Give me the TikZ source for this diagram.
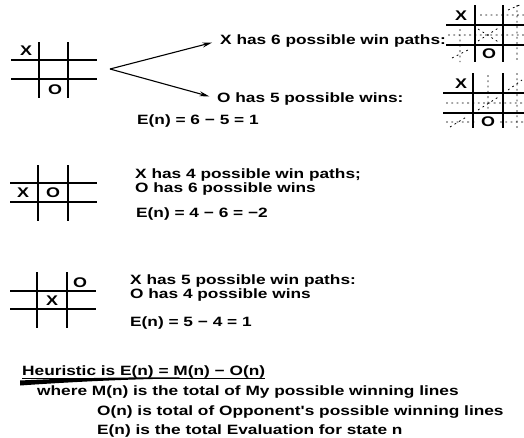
\documentclass[tikz,border=0pt]{standalone}
\usepackage{fontspec}
\newfontfamily\lbl{Liberation Sans}[FakeStretch=1.28]
\usetikzlibrary{arrows.meta}
\begin{document}
\begin{tikzpicture}[x=1pt,y=-1pt,
  txt/.style={anchor=base west, inner sep=0pt, font=\lbl\bfseries\fontsize{13.5}{16}\selectfont},
  piece/.style={inner sep=0pt, font=\lbl\bfseries\fontsize{14}{16}\selectfont},
  gridline/.style={line width=1.4pt},
  winpath/.style={line width=0.8pt, dash pattern=on 1.8pt off 3.5pt},
  arr/.style={line width=1.1pt, -{Stealth[length=10pt,width=5pt]}, shorten >=8pt}]
\useasboundingbox (0,0) rectangle (524,437);
\fill[white] (0,0) rectangle (524,437);
\clip (0,0) rectangle (524,437);

% ---- board 1
\draw[gridline] (39,42)--(39,98) (68,42)--(68,98) (11,60)--(97,60) (11,79)--(97,79);
\node[piece] (g1x) at (26,51) {X};
\node[piece] (g1o) at (55,90) {O};
\coordinate (fork) at (110,69);
\node[txt] (t1a) at (220,44) {X has 6 possible win paths:};
\node[txt] (t1b) at (217,102) {O has 5 possible wins:};
\node[txt] (t1e) at (137,124) {E(n) = 6 − 5 = 1};
\draw[arr] (fork) -- (t1a.west);
\draw[arr] (fork) -- (t1b.west);

% ---- right board A (X win paths)
\draw[gridline] (475,5)--(475,62) (503,5)--(503,62) (446,25)--(530,25) (446,45)--(530,45);
\node[piece] (gax) at (461,16) {X};
\node[piece] (gao) at (489,54) {O};
\draw[winpath] (480,15)--(530,15) (448,35)--(530,35) (460,29)--(460,62) (517,5)--(517,62)
  (478,29)--(500,43) (478,41)--(500,27) (508,10)--(522,4) (452,58)--(468,50);

% ---- right board B (O win paths)
\draw[gridline] (473,73)--(473,128) (503,73)--(503,128) (443,93)--(530,93) (443,113)--(530,113);
\node[piece] (gbx) at (461,84) {X};
\node[piece] (gbo) at (488,122) {O};
\draw[winpath] (446,103)--(530,103) (446,122)--(476,122) (500,122)--(530,122)
  (488,75)--(488,111) (517,73)--(517,128) (478,110)--(500,96) (508,90)--(522,80) (450,127)--(468,116);

% ---- board 2
\draw[gridline] (38,165)--(38,221) (68,165)--(68,221) (10,183)--(97,183) (10,202)--(97,202);
\node[piece] (g2x) at (23,193) {X};
\node[piece] (g2o) at (53,193) {O};
\node[txt] (t2a) at (135,178) {X has 4 possible win paths;};
\node[txt] (t2b) at (135,192) {O has 6 possible wins};
\node[txt] (t2e) at (136,217) {E(n) = 4 − 6 = −2};

% ---- board 3
\draw[gridline] (37,272)--(37,328) (67,272)--(67,328) (10,291)--(96,291) (10,309)--(96,309);
\node[piece] (g3o) at (80,283) {O};
\node[piece] (g3x) at (52,301) {X};
\node[txt] (t3a) at (130,284) {X has 5 possible win paths:};
\node[txt] (t3b) at (130,298) {O has 4 possible wins};
\node[txt] (t3e) at (130,326) {E(n) = 5 − 4 = 1};

% ---- heuristic
\node[txt] (head) at (22,375) {Heuristic is E(n) = M(n) − O(n)};
\draw[line width=0.9pt] (head.south west) -- (head.south east);
\fill (20,380.5) .. controls (70,378) and (130,377) .. (180,377.5)
  -- (180,378.5) .. controls (130,379) and (70,382) .. (20,385.5) -- cycle;
\node[txt] (w1) at (37,395) {where M(n) is the total of My possible winning lines};
\node[txt] (w2) at (97,415) {O(n) is total of Opponent's possible winning lines};
\node[txt] (w3) at (97,434) {E(n) is the total Evaluation for state n};
\end{tikzpicture}
\end{document}
